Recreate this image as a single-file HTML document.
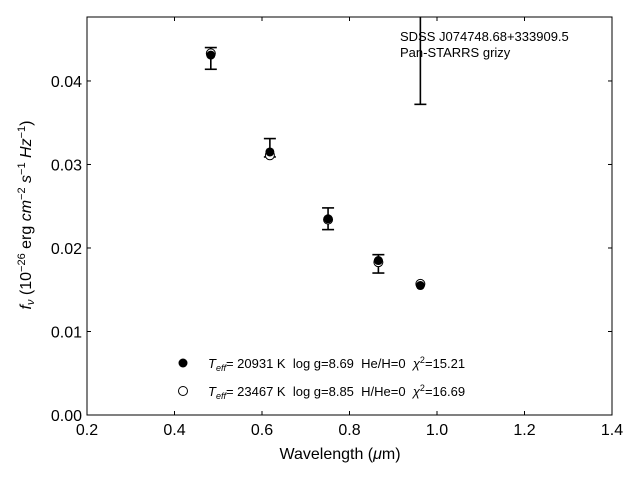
<!DOCTYPE html>
<html><head><meta charset="utf-8"><style>
body{margin:0;background:#fff;}
svg text{font-family:"Liberation Sans","DejaVu Sans",sans-serif;white-space:pre;}
</style></head><body>
<svg id="chart" width="640" height="480" xmlns="http://www.w3.org/2000/svg">
<rect width="640" height="480" fill="#fff"/>
<g id="marks"></g>
<g id="axes"></g>
<text x="400" y="41" font-size="13">SDSS J074748.68+333909.5</text>
<text x="400" y="57" font-size="13">Pan-STARRS grizy</text>
<g font-size="13">
<circle cx="183" cy="363" r="4.5" fill="#000"/>
<text x="208" y="368" xml:space="preserve"><tspan font-style="italic">T</tspan><tspan font-style="italic" font-size="9" dy="3">eff</tspan><tspan dy="-3">= 20931 K  log g=8.69  He/H=0  </tspan><tspan font-style="italic">χ</tspan><tspan font-size="9" dy="-5">2</tspan><tspan dy="5">=15.21</tspan></text>
<circle cx="183" cy="391" r="4.5" fill="#fff" stroke="#000"/>
<text x="208" y="396" xml:space="preserve"><tspan font-style="italic">T</tspan><tspan font-style="italic" font-size="9" dy="3">eff</tspan><tspan dy="-3">= 23467 K  log g=8.85  H/He=0  </tspan><tspan font-style="italic">χ</tspan><tspan font-size="9" dy="-5">2</tspan><tspan dy="5">=16.69</tspan></text>
</g>
<text x="340" y="459" font-size="16" text-anchor="middle">Wavelength (<tspan font-style="italic">μ</tspan>m)</text>
<text transform="translate(31,215) rotate(-90)" font-size="16" text-anchor="middle"><tspan font-style="italic">f</tspan><tspan font-style="italic" font-size="11" dy="3">ν</tspan><tspan dy="-3"> (10</tspan><tspan font-size="11" dy="-6">−26</tspan><tspan dy="6"> erg </tspan><tspan font-style="italic">cm</tspan><tspan font-size="11" dy="-6">−2</tspan><tspan dy="6"> </tspan><tspan font-style="italic">s</tspan><tspan font-size="11" dy="-6">−1</tspan><tspan dy="6"> </tspan><tspan font-style="italic">Hz</tspan><tspan font-size="11" dy="-6">−1</tspan><tspan dy="6">)</tspan></text>
</svg>
<script>
const wavelengths=[0.483,0.618,0.751,0.866,0.962];
const obsFlux=[0.0427,0.0320,0.0235,0.0181,0.0600];
const obsErr=[0.0013,0.0011,0.0013,0.0011,0.0228];
const modelHe=[0.0431,0.0315,0.0235,0.0185,0.0155];
const modelH=[0.0433,0.0311,0.0234,0.0183,0.0157];
const xTicks=[0.2,0.4,0.6,0.8,1.0,1.2,1.4];
const xTickLabels=["0.2","0.4","0.6","0.8","1.0","1.2","1.4"];
const yTicks=[0,0.01,0.02,0.03,0.04];
const yTickLabels=["0.00","0.01","0.02","0.03","0.04"];
const L=87,R=612,T=17,B=415,xmin=0.2,xmax=1.4,ymin=0,ymax=0.04766;
const xs=v=>L+(v-xmin)/(xmax-xmin)*(R-L);
const ys=v=>B-(v-ymin)/(ymax-ymin)*(B-T);
const NS="http://www.w3.org/2000/svg";
function mk(tag,at,parent){const e=document.createElementNS(NS,tag);for(const k in at)e.setAttribute(k,at[k]);parent.appendChild(e);return e;}
const marks=document.getElementById('marks'),axes=document.getElementById('axes');
const clip=mk('clipPath',{id:'pc'},marks);mk('rect',{x:L,y:T,width:R-L,height:B-T},clip);
const g=mk('g',{'clip-path':'url(#pc)'},marks);
for(let i=0;i<wavelengths.length;i++){
 const x=xs(wavelengths[i]);
 const y1=ys(obsFlux[i]+obsErr[i]),y2=ys(obsFlux[i]-obsErr[i]);
 const eb=mk('g',{stroke:'#000','stroke-width':1.6},g);
 
 
 mk('line',{x1:x,x2:x,y1:y1,y2:y2},eb);
 mk('line',{x1:x-6,x2:x+6,y1:y1,y2:y1},eb);
 mk('line',{x1:x-6,x2:x+6,y1:y2,y2:y2},eb);
}
for(let i=0;i<wavelengths.length;i++){
 const x=xs(wavelengths[i]);
 const c1=mk('circle',{cx:x,cy:ys(modelH[i]),r:4.5,fill:'#fff',stroke:'#000'},g);
 
 
 const c2=mk('circle',{cx:x,cy:ys(modelHe[i]),r:4.5,fill:'#000'},g);
 
 
}
const fr=mk('rect',{x:L,y:T,width:R-L,height:B-T,fill:'none',stroke:'#000','stroke-width':1},axes);


xTicks.forEach((v,i)=>{const x=xs(v);
 mk('line',{x1:x,x2:x,y1:B,y2:B-4,stroke:'#000'},axes);
 mk('line',{x1:x,x2:x,y1:T,y2:T+4,stroke:'#000'},axes);
 const t=mk('text',{x:x,y:B+20,'font-size':16,'text-anchor':'middle'},axes);t.textContent=xTickLabels[i];
 
 
});
yTicks.forEach((v,i)=>{const y=ys(v);
 mk('line',{x1:L,x2:L+4,y1:y,y2:y,stroke:'#000'},axes);
 mk('line',{x1:R,x2:R-4,y1:y,y2:y,stroke:'#000'},axes);
 const t=mk('text',{x:L-5,y:y+6,'font-size':16,'text-anchor':'end'},axes);t.textContent=yTickLabels[i];
 
 
});
</script>
</body></html>
